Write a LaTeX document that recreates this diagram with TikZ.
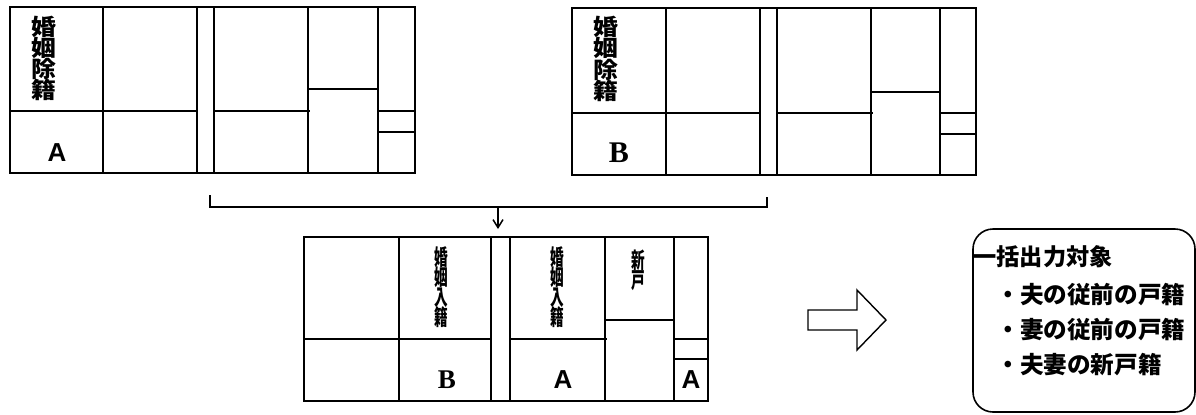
\documentclass[tikz,border=0pt]{standalone}
\usepackage{fontspec}
\usepackage{graphicx}
\newfontfamily\jp{Noto Sans CJK JP}
\newfontfamily\lsans{Liberation Sans}
\newfontfamily\lserif{Liberation Serif}
\usetikzlibrary{arrows.meta}
\newcommand{\nx}[1]{\scalebox{0.62}[1]{#1}}
\newcommand{\wx}[1]{\scalebox{1.1}[1]{#1}}
\newcommand{\tightlines}{\lineskip=0pt\lineskiplimit=-30pt\relax}
\begin{document}
\begin{tikzpicture}[x=0.5pt,y=-0.5pt,
  outer/.style={line width=1pt},
  inner/.style={line width=0.75pt},
  vtop/.style={inner sep=0pt,align=center,font=\jp\bfseries\fontsize{11.3}{10.6}\selectfont\tightlines},
  vbot/.style={inner sep=0pt,align=center,font=\jp\bfseries\fontsize{11}{10}\selectfont\tightlines},
  letA/.style={inner sep=0pt,font=\lsans\bfseries\fontsize{13}{13}\selectfont},
  letB/.style={inner sep=0pt,font=\lserif\bfseries\fontsize{13.5}{13.5}\selectfont},
  listtxt/.style={inner sep=0pt,anchor=west,font=\jp\bfseries\fontsize{11.8}{11.8}\selectfont},
  arr/.style={line width=0.75pt,-{Straight Barb[length=4pt,width=5pt]}}]
\useasboundingbox (0,0) rectangle (1196,414);
% ---- card A (top left)
\draw[outer] (10,7) rectangle (415,173);
\draw[inner] (103,7)--(103,173) (197,7)--(197,173) (214,7)--(214,173)
  (308,7)--(308,173) (378,7)--(378,173);
\draw[inner] (10,111)--(197,111) (214,111)--(310,111) (308,89)--(378,89)
  (378,111)--(415,111) (378,132)--(415,132);
\node[vtop] (ta) at (43.5,58.5) {\wx{婚}\\\wx{姻}\\\wx{除}\\\wx{籍}};
\node[letA] (la) at (57,153) {A};
% ---- card B (top right)
\draw[outer] (572,8) rectangle (976,175);
\draw[inner] (666,8)--(666,175) (760,8)--(760,175) (777,8)--(777,175)
  (871,8)--(871,175) (940,8)--(940,175);
\draw[inner] (572,113)--(760,113) (777,113)--(873,113) (871,92)--(940,92)
  (940,113)--(976,113) (940,134)--(976,134);
\node[vtop] (tb) at (606,59) {\wx{婚}\\\wx{姻}\\\wx{除}\\\wx{籍}};
\node[letB,font=\lserif\bfseries\fontsize{15}{15}\selectfont] (lb) at (619,153) {B};
% ---- bracket and arrow
\coordinate (blt) at (210,195);
\coordinate (blb) at (210,207);
\coordinate (bm) at (498,207);
\coordinate (brb) at (767,207);
\coordinate (brt) at (767,197);
\coordinate (at) at (498,229);
\draw[outer] (blt) -- (blb) -- (brb) -- (brt);
\draw[arr] (bm) -- (at);
% ---- card C (bottom)
\draw[outer] (304,237) rectangle (708,401);
\draw[inner] (399,237)--(399,401) (491,237)--(491,401) (510,237)--(510,401)
  (605,237)--(605,401) (674,237)--(674,401);
\draw[inner] (304,339)--(491,339) (510,339)--(607,339) (605,320)--(674,320)
  (674,339)--(708,339) (674,359)--(708,359);
\node[vbot] (tc1) at (441,287) {\nx{婚}\\\nx{姻}\\\nx{入}\\\nx{籍}};
\node[vbot] (tc2) at (557,287) {\nx{婚}\\\nx{姻}\\\nx{入}\\\nx{籍}};
\node[vbot] (tc3) at (638,270) {\nx{新}\\\nx{戸}};
\node[letB] (lc1) at (447,380) {B};
\node[letA] (lc2) at (563,380) {A};
\node[letA] (lc3) at (691,380) {A};
% ---- block arrow
\draw[line width=0.7pt] (808,310) -- (857,310) -- (857,290) -- (886,320)
  -- (857,350) -- (857,330) -- (808,330) -- cycle;
% ---- rounded box
\draw[line width=0.8pt,rounded corners=10pt] (973,229) rectangle (1195,412);
\node[listtxt,font=\jp\bfseries\fontsize{11.6}{11.6}\selectfont] (h) at (973,257) {一括出力対象};
\node[listtxt] (l1) at (996,295) {・夫の従前の戸籍};
\node[listtxt] (l2) at (996,330) {・妻の従前の戸籍};
\node[listtxt] (l3) at (996,365) {・夫妻の新戸籍};
\end{tikzpicture}
\end{document}
